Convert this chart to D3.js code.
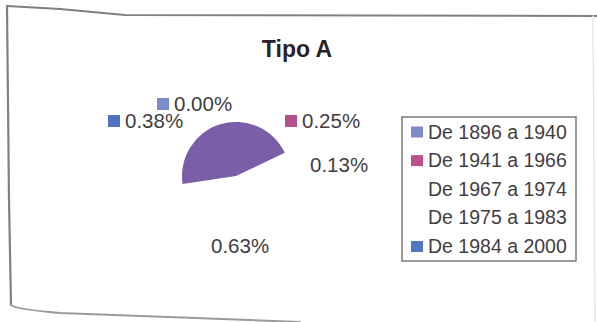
<!DOCTYPE html>
<html><head><meta charset="utf-8">
<script src="https://cdn.jsdelivr.net/npm/d3@7"></script>
<style>html,body{margin:0;padding:0;background:#fff;}svg{display:block;}</style>
</head><body>
<svg id="chart" width="597" height="322"></svg>
<script>
// ---- data ----
const title = "Tipo A";
const categories = ["De 1896 a 1940", "De 1941 a 1966", "De 1967 a 1974", "De 1975 a 1983", "De 1984 a 2000"];
const values = [0.00, 0.25, 0.13, 0.63, 0.38];
const valueLabels = ["0.00%", "0.25%", "0.13%", "0.63%", "0.38%"];

// ---- styling / layout (not data) ----
const legendColors = ["#7f88c9", "#b9508a", null, null, "#4e78c4"];
const labelMarkerColors = ["#7b8ac8", "#b5508a", null, null, "#4f72bf"];
const sliceColors = [null, null, null, "#7b5ea8", null];
const labelAnchors = [[174, 111], [302, 128], [310, 172], [211, 253], [125, 128]];
const textColor = "#433d42";
const font = "'Liberation Sans', Arial, sans-serif";

const svg = d3.select("#chart");

// frame (scanned, skewed border)
const frame = svg.append("g").attr("fill", "none").attr("stroke-linecap", "round");
frame.append("path").attr("d", "M7,6 L60,9 L125,15 L597,16").attr("stroke", "#808080").attr("stroke-width", 2);
frame.append("path").attr("d", "M7,6 L9,200 L11,305").attr("stroke", "#808080").attr("stroke-width", 2.2);
frame.append("path").attr("d", "M11,305 Q14,309 60,313 L300,322").attr("stroke", "#9a9a9a").attr("stroke-width", 2);
frame.append("path").attr("d", "M593,16 L595,322").attr("stroke", "#e6e6e6").attr("stroke-width", 1.5);

// title
svg.append("text").attr("x", 297).attr("y", 57).attr("text-anchor", "middle")
  .attr("font-family", font).attr("font-weight", "bold").attr("font-size", 23)
  .attr("fill", "#2a2228").text(title);

// pie
const cx = 236, cy = 176, r = 54;
const pie = d3.pie().sort(null).value(d => d).startAngle(163 * Math.PI / 180).endAngle((163 + 360) * Math.PI / 180);
const arc = d3.arc().innerRadius(0).outerRadius(r);
const arcs = pie(values);
svg.append("g").attr("transform", `translate(${cx},${cy})`)
  .selectAll("path").data(arcs).join("path")
  .attr("d", arc)
  .attr("fill", (d, i) => sliceColors[i] || "none");

// data labels
const lab = svg.append("g").attr("font-family", font).attr("font-size", 20.5).attr("fill", textColor);
valueLabels.forEach((t, i) => {
  const [x, y] = labelAnchors[i];
  lab.append("text").attr("x", x).attr("y", y).text(t);
  if (labelMarkerColors[i]) {
    lab.append("rect").attr("x", x - 17).attr("y", y - 13).attr("width", 12).attr("height", 12)
      .attr("fill", labelMarkerColors[i]);
  }
});

// legend
const lg = svg.append("g");
lg.append("rect").attr("x", 402).attr("y", 117).attr("width", 174).attr("height", 144)
  .attr("fill", "#fff").attr("stroke", "#7a7a7a").attr("stroke-width", 1.5);
const ly = d3.scalePoint().domain(categories).range([138.5, 253]);
categories.forEach((c, i) => {
  const y = ly(c);
  if (legendColors[i]) {
    lg.append("rect").attr("x", 411).attr("y", y - 12).attr("width", 12).attr("height", 11).attr("fill", legendColors[i]);
  }
  lg.append("text").attr("x", 428).attr("y", y).attr("font-family", font).attr("font-size", 19.5)
    .attr("fill", textColor).text(c);
});
</script>
</body></html>
